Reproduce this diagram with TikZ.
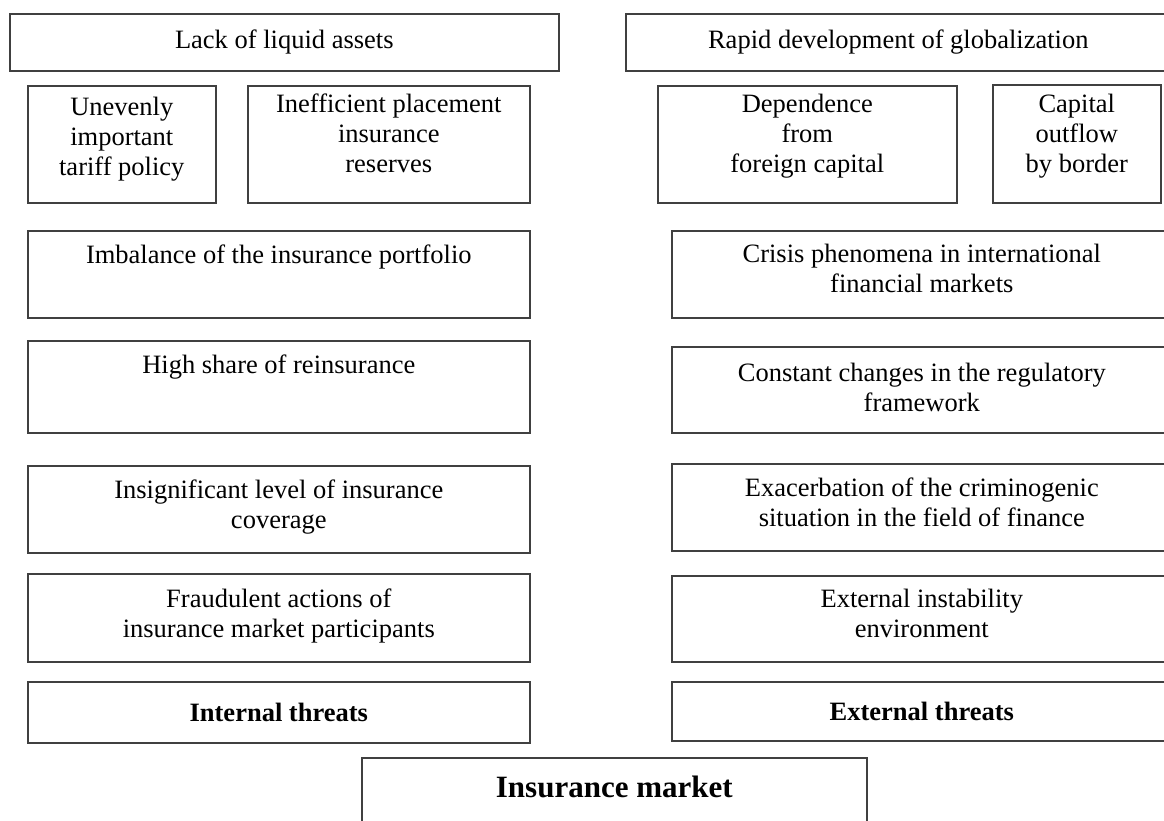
\documentclass[tikz,border=0pt]{standalone}
\usepackage{fontspec}
\setmainfont{Liberation Serif}
\usetikzlibrary{positioning}
\tikzset{
  box/.style={draw=black!75, line width=1.6pt, rectangle, anchor=north west, inner sep=0pt},
  txt/.style={align=center, inner sep=0pt, font=\fontsize{26.5}{30}\selectfont},
  head/.style={txt, font=\fontsize{26.5}{30}\selectfont\bfseries}
}
\begin{document}
\begin{tikzpicture}[x=1pt,y=-1pt]
  \useasboundingbox (0,0) rectangle (1164,821);
  %top row
  \node[box, minimum width=549pt, minimum height=57pt] (lack) at (9,13) {};
  \node[txt] (lackt) at (lack.center) {Lack of liquid assets};
  \node[box, minimum width=545pt, minimum height=57pt] (glob) at (625,13) {};
  \node[txt] (globt) at (glob.center) {Rapid development of globalization};
  %second row
  \node[box, minimum width=188pt, minimum height=117pt] (tariff) at (27,85) {};
  \node[txt, below=12pt of tariff.north] (tarifft) {Unevenly\\important\\tariff policy};
  \node[box, minimum width=282pt, minimum height=117pt] (reserv) at (247,85) {};
  \node[txt, below=9pt of reserv.north] (reservt) {Inefficient placement\\insurance\\reserves};
  \node[box, minimum width=299pt, minimum height=117pt] (depend) at (657,85) {};
  \node[txt, below=9pt of depend.north] (dependt) {Dependence\\from\\foreign capital};
  \node[box, minimum width=168pt, minimum height=118pt] (outflow) at (992,84) {};
  \node[txt, below=10pt of outflow.north] (outflowt) {Capital\\outflow\\by border};
  %internal threats
  \node[box, minimum width=502pt, minimum height=87pt] (imbal) at (27,230) {};
  \node[txt, below=15pt of imbal.north] (imbalt) {Imbalance of the insurance portfolio};
  \node[box, minimum width=502pt, minimum height=92pt] (reins) at (27,340) {};
  \node[txt, below=15pt of reins.north] (reinst) {High share of reinsurance};
  \node[box, minimum width=502pt, minimum height=87pt] (cover) at (27,465) {};
  \node[txt, below=15pt of cover.north] (covert) {Insignificant level of insurance\\coverage};
  \node[box, minimum width=502pt, minimum height=88pt] (fraud) at (27,573) {};
  \node[txt, below=16pt of fraud.north] (fraudt) {Fraudulent actions of\\insurance market participants};
  \node[box, minimum width=502pt, minimum height=61pt] (intern) at (27,681) {};
  \node[head] (internt) at (intern.center) {Internal threats};
  %external threats
  \node[box, minimum width=500pt, minimum height=87pt] (crisis) at (671,230) {};
  \node[txt, below=14pt of crisis.north] (crisist) {Crisis phenomena in international\\financial markets};
  \node[box, minimum width=500pt, minimum height=86pt] (regul) at (671,346) {};
  \node[txt, below=17pt of regul.north] (regult) {Constant changes in the regulatory\\framework};
  \node[box, minimum width=500pt, minimum height=87pt] (crime) at (671,463) {};
  \node[txt, below=15pt of crime.north] (crimet) {Exacerbation of the criminogenic\\situation in the field of finance};
  \node[box, minimum width=500pt, minimum height=86pt] (instab) at (671,575) {};
  \node[txt, below=14pt of instab.north] (instabt) {External instability\\environment};
  \node[box, minimum width=500pt, minimum height=59pt] (extern) at (671,681) {};
  \node[head] (externt) at (extern.center) {External threats};
  %market
  \node[box, minimum width=505pt, minimum height=90pt] (market) at (361,757) {};
  \node[head, font=\fontsize{31}{36}\selectfont\bfseries, below=19pt of market.north] (markett) {Insurance market};
\end{tikzpicture}
\end{document}
